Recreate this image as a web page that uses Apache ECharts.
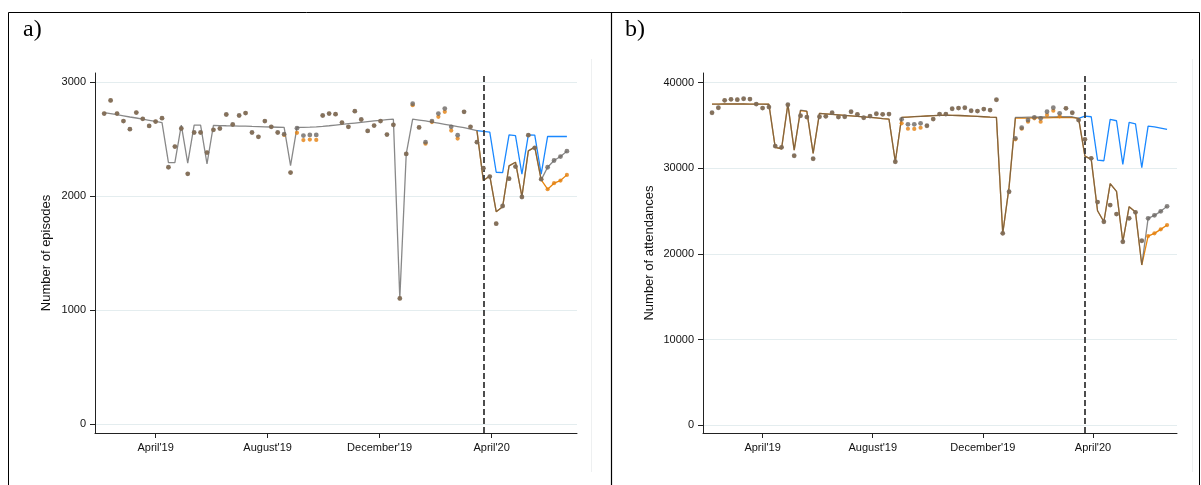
<!DOCTYPE html>
<html><head><meta charset="utf-8">
<script src="https://cdn.jsdelivr.net/npm/echarts@6/dist/echarts.min.js"></script>
<style>html,body{margin:0;padding:0;background:#fff}#c{width:1201px;height:485px}</style>
</head><body><div id="c"></div>
<script>
// ---------- data ----------
const weeks = ['2019-02-04','2019-02-11','2019-02-18','2019-02-25','2019-03-04','2019-03-11','2019-03-18','2019-03-25',
'2019-04-01','2019-04-08','2019-04-15','2019-04-22','2019-04-29','2019-05-06','2019-05-13','2019-05-20','2019-05-27',
'2019-06-03','2019-06-10','2019-06-17','2019-06-24','2019-07-01','2019-07-08','2019-07-15','2019-07-22','2019-07-29',
'2019-08-05','2019-08-12','2019-08-19','2019-08-26','2019-09-02','2019-09-09','2019-09-16','2019-09-23','2019-09-30',
'2019-10-07','2019-10-14','2019-10-21','2019-10-28','2019-11-04','2019-11-11','2019-11-18','2019-11-25',
'2019-12-02','2019-12-09','2019-12-16','2019-12-23','2019-12-30','2020-01-06','2020-01-13','2020-01-20','2020-01-27',
'2020-02-03','2020-02-10','2020-02-17','2020-02-24','2020-03-02','2020-03-09','2020-03-16','2020-03-23','2020-03-30',
'2020-04-06','2020-04-13','2020-04-20','2020-04-27','2020-05-04','2020-05-11','2020-05-18','2020-05-25',
'2020-06-01','2020-06-08','2020-06-15','2020-06-22'];
const lockdownWeek = '2020-03-23';
const xTickDates = ['2019-04-01','2019-08-01','2019-12-01','2020-04-01'];
const xTickLabels = ["April'19","August'19","December'19","April'20"];

// panel a: episodes
const aYTicks = [0,1000,2000,3000];
const aObs = [2727,2842,2727,2661,2590,2736,2681,2619,2657,2687,
 2256,2437,2596,2198,2561,2561,2385,2584,2596,2719,
 2631,2710,2731,2561,2523,2661,2611,2561,2546,2209,
 2599,2534,2540,2540,2710,2727,2722,2648,2611,2748,
 2675,2575,2622,2661,2543,2628,1105,2373,2813,2605,
 2476,2661,2727,2771,2611,2537,2742,2611,2476,2248,
 2174,1761,1916,2156,2262,1995,2537,2426,2151,2256,
 2315,2350,2397];
const aObsOrange = [2727,2842,2727,2661,2590,2736,2681,2619,2657,2687,
 2256,2437,2596,2198,2561,2561,2385,2584,2596,2719,
 2631,2710,2731,2561,2523,2661,2611,2561,2540,2209,
 2558,2494,2499,2496,2710,2727,2722,2648,2611,2748,
 2675,2575,2622,2661,2543,2628,1105,2373,2800,2605,
 2463,2652,2698,2742,2578,2508,2742,2611,2476,2248,
 2174,1761,1916,2156,2262,1995,2537,2426,2151,2063,
 2116,2139,2189];
const aFit = [2736,2727,2717,2707,2697,2688,2678,2668,2658,2648,
 2297,2297,2626,2292,2626,2626,2285,2623,2622,2620,
 2619,2617,2616,2614,2613,2611,2609,2607,2605,2271,
 2605,2606,2608,2611,2615,2620,2626,2632,2638,2644,
 2650,2656,2662,2668,2673,2678,1105,2373,2678,2670,
 2662,2652,2643,2633,2623,2613,2603,2590,2578,2139,
 2180,1866,1910,2268,2300,1998,2400,2432,2145,2256,
 2315,2350,2397];
const aFitOrangeFromWeek = 59;
const aFitOrange = [2578,2139,2180,1866,1910,2268,2300,1998,2400,2432,2145,2063,2116,2139,2189];
const aCfFromWeek = 59;
const aCounterfactual = [2578,2570,2564,2212,2209,2540,2534,2195,2540,2537,2195,2526,2526,2526,2526];

// panel b: attendances
const bYTicks = [0,10000,20000,30000,40000];
const bObs = [36490,37072,37937,38053,38015,38124,38088,37504,37037,37154,
 32599,32447,37423,31466,36138,35986,31116,36021,36068,36490,
 35986,36021,36605,36301,35904,36103,36371,36301,36336,30764,
 35717,35133,35133,35250,34970,35752,36336,36336,36955,37037,
 37072,36722,36686,36920,36800,38007,22400,27260,33498,34736,
 35635,35950,35833,36605,37072,36418,37002,36490,35635,33380,
 31162,26058,23757,25708,24657,21421,24154,24855,21538,24154,
 24505,24972,25556];
const bObsOrange = [36490,37072,37937,38053,38015,38124,38088,37504,37037,37154,
 32599,32447,37423,31466,36138,35986,31116,36021,36068,36490,
 35986,36021,36605,36301,35904,36103,36371,36301,36336,30764,
 35250,34620,34600,34736,34970,35752,36336,36336,36955,37037,
 37072,36722,36686,36920,36800,38007,22400,27260,33380,34620,
 35437,35833,35437,36220,36722,36068,37002,36490,35635,33380,
 31162,26058,23757,25708,24657,21421,24154,24855,21538,22087,
 22402,22869,23372];
const bFit = [37500,37500,37510,37510,37510,37510,37505,37500,37500,37480,
 32447,32283,37504,32131,36800,36686,31746,36418,36360,36300,
 36240,36180,36120,36060,36000,35940,35880,35810,35752,30764,
 35950,35990,36030,36070,36110,36150,36180,36200,36190,36170,
 36140,36100,36060,36020,35980,35950,22400,27800,35950,35960,
 35970,35980,35990,36000,36010,36020,36020,36020,35833,31430,
 31045,25042,23757,28200,27300,21421,25510,24900,18700,24154,
 24505,24972,25556];
const bFitOrange = [37500,37500,37510,37510,37510,37510,37505,37500,37500,37480,
 32447,32283,37504,32131,36750,36640,31746,36418,36360,36300,
 36240,36180,36120,36060,36000,35940,35880,35810,35752,30764,
 35950,35990,36030,36070,36110,36150,36180,36200,36190,36170,
 36140,36100,36060,36020,35980,35950,22400,27800,35850,35860,
 35870,35880,35890,35900,35910,35920,35920,35920,35833,31430,
 31045,25042,23757,28200,27300,21421,25510,24900,18700,22087,
 22402,22869,23372];
const bCfFromWeek = 59;
const bCounterfactual = [35833,36103,36021,30964,30882,35717,35554,30462,35367,35203,30065,34934,34830,34690,34550];

// ---------- helpers ----------
function day(s){const p=s.split('-');return Date.UTC(+p[0],+p[1]-1,+p[2])/864e5;}
const xs = weeks.map(day);
const xTicks = xTickDates.map(day);
function pairs(vals, fromWeek){const o=(fromWeek||1)-1;return vals.map((v,i)=>[xs[i+o],v]);}
function xLabel(v){const i=xTicks.indexOf(v);return i>=0?xTickLabels[i]:'';}

const FONT = 'Liberation Sans, Arial, sans-serif';
const C_GRAY = '#555555', C_DOT = '#6b6763', C_OR = '#e8850c', C_DOTOR='#e47f0e', C_BLUE = '#1a88ff';
const AX = '#222';

function xAxis(g){
  return {type:'value', gridIndex:g, min:xs[0]-10, max:xs[xs.length-1]+11,
    axisLine:{show:true,onZero:false,lineStyle:{color:AX,width:1}},
    axisTick:{show:true,customValues:xTicks,length:5,lineStyle:{color:AX}},
    axisLabel:{customValues:xTicks,formatter:xLabel,color:'#111',fontSize:11,margin:9,fontFamily:FONT},
    splitLine:{show:false}};
}
function yAxis(g,min,max,ticks,name,gap){
  return {type:'value', gridIndex:g, min:min, max:max,
    axisLine:{show:true,onZero:false,lineStyle:{color:AX,width:1}},
    axisTick:{show:true,customValues:ticks,length:5,lineStyle:{color:AX}},
    axisLabel:{customValues:ticks,formatter:v=>String(v),color:'#111',fontSize:11,margin:9,fontFamily:FONT},
    splitLine:{show:true,lineStyle:{color:'#e4edef',width:1}},
    name:name,nameLocation:'middle',nameGap:gap,
    nameTextStyle:{fontSize:13,color:'#111',fontFamily:FONT}};
}
function lineS(g,data,color,z,opacity){
  return {type:'line',xAxisIndex:g,yAxisIndex:g,data:data,symbol:'none',showSymbol:false,z:z,
    lineStyle:{color:color,width:1.3,opacity:opacity==null?1:opacity},animation:false,silent:true};
}
function dotS(g,data,color,z,size,mark){
  const s={type:'scatter',xAxisIndex:g,yAxisIndex:g,data:data,symbol:'circle',symbolSize:size,z:z,
    itemStyle:{color:color},animation:false,silent:true};
  if(mark){s.markLine={symbol:'none',silent:true,animation:false,label:{show:false},
    lineStyle:{type:[6,3],color:'#3a3a3a',width:1.8},data:[{xAxis:day(lockdownWeek)}]};}
  return s;
}

const chart = echarts.init(document.getElementById('c'));
chart.setOption({
  animation:false,
  backgroundColor:'#fff',
  grid:[{left:95,right:624,top:73,bottom:52},{left:703,right:24,top:73,bottom:52}],
  xAxis:[xAxis(0),xAxis(1)],
  yAxis:[yAxis(0,-76,3083,aYTicks,'Number of episodes',42),
         yAxis(1,-923,41133,bYTicks,'Number of attendances',47)],
  series:[
    lineS(0,pairs(aCounterfactual,aCfFromWeek),C_BLUE,2),
    lineS(0,pairs(aFitOrange,aFitOrangeFromWeek),C_OR,3),
    lineS(0,pairs(aFit),C_GRAY,4,0.7),
    dotS(0,pairs(aObsOrange),C_DOTOR,5,4.2),
    dotS(0,pairs(aObs),C_DOT,6,4.8,true),
    lineS(1,pairs(bCounterfactual,bCfFromWeek),C_BLUE,2),
    lineS(1,pairs(bFitOrange),C_OR,3),
    lineS(1,pairs(bFit),C_GRAY,4,0.7),
    dotS(1,pairs(bObsOrange),C_DOTOR,5,4.2),
    dotS(1,pairs(bObs),C_DOT,6,4.8,true)
  ],
  graphic:[
    {type:'rect',shape:{x:8.5,y:12.5,width:1191,height:480},style:{fill:null,stroke:'#000',lineWidth:1},silent:true},
    {type:'line',shape:{x1:611.5,y1:12,x2:611.5,y2:485},style:{stroke:'#000',lineWidth:1.2},silent:true},
    {type:'line',shape:{x1:591.5,y1:59,x2:591.5,y2:472},style:{stroke:'#eef0f1',lineWidth:1},silent:true},
    {type:'line',shape:{x1:1192.5,y1:59,x2:1192.5,y2:472},style:{stroke:'#eef0f1',lineWidth:1},silent:true},
    {type:'text',left:23,top:18,style:{text:'a)',fontSize:24,fontFamily:'Liberation Serif, Times New Roman, serif',fill:'#000'}},
    {type:'text',left:625,top:18,style:{text:'b)',fontSize:24,fontFamily:'Liberation Serif, Times New Roman, serif',fill:'#000'}}
  ]
});
</script></body></html>
